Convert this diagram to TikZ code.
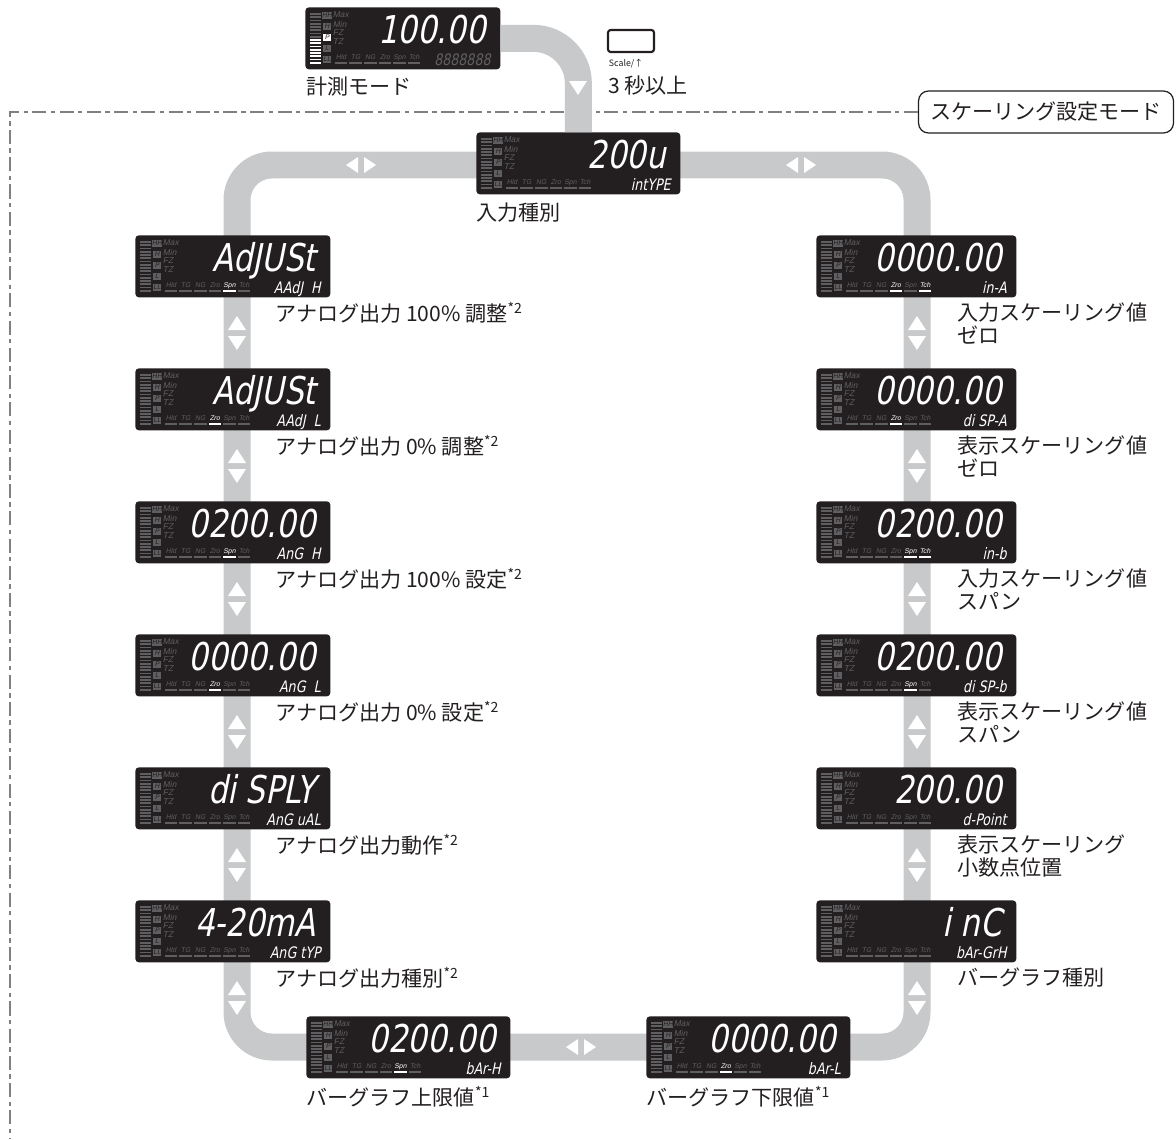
\documentclass[tikz,border=0pt]{standalone}
\usepackage{fontspec}
\usepackage{xstring}
\usepackage{tikz}
\usetikzlibrary{positioning, calc}
\setmainfont{Noto Sans CJK JP}
\newfontfamily\segfont{DejaVu Sans}[FakeSlant=0.2, FakeStretch=0.8]
\newfontfamily\lcdsans{Liberation Sans}[FakeSlant=0.2]
\definecolor{track}{HTML}{C8C9CA}
\definecolor{lcdbg}{HTML}{231F20}
\definecolor{lcdoff}{HTML}{5F5F61}
\definecolor{ink}{HTML}{231F20}
\definecolor{frame}{HTML}{808080}

\newcommand{\lcd}[7]{%
  \node[lcdbox, minimum width=#4*0.02cm] (#1) at (#2,#3) {};
  \begin{scope}[shift={(#1.north west)}]
    \foreach \i in {0,...,15}
      \fill[lcdoff] (5,{6+3.25*\i}) rectangle ++(11,1.8);
    \foreach \lb [count=\i] in {HH,H,P,L,LL}
      \node[ind] (#1-i\i) at (22,{-2.5+11*\i}) {\lb};
    \foreach \lb [count=\i] in {Max,Min,FZ,TZ}
      \node[tag, anchor=west] (#1-f\i) at (27.5,{-1+9*\i}) {\lb};
    \foreach \lb [count=\i] in {Hld,TG,NG,Zro,Spn,Tch} {
      \IfSubStr{,#7,}{,\i,}{\def\lcol{white}}{\def\lcol{lcdoff}}
      \node[tagsm, text=\lcol] (#1-b\i) at ({21.5+14.6*\i},50.5) {\lb};
      \fill[\lcol] ({15.2+14.6*\i},55) rectangle ++(12.6,1.8);}
    \node[digits] (#1-m) at ({#4-14},36.5) {#5};
    \node[subdigits] (#1-s) at ({#4-9},58.5) {#6};
  \end{scope}}

\tikzset{
  tup/.pic={\fill[white] (-9,7) -- (9,7) -- (0,-7) -- cycle;},
  tdn/.pic={\fill[white] (-9,-7) -- (9,-7) -- (0,7) -- cycle;},
  tlt/.pic={\fill[white] (6,-8) -- (6,8) -- (-6,0) -- cycle;},
  trt/.pic={\fill[white] (-6,-8) -- (-6,8) -- (6,0) -- cycle;}}

\begin{document}
\begin{tikzpicture}[x=0.02cm, y=-0.02cm,
    lcdbox/.style={fill=lcdbg, rounded corners=2pt, minimum height=1.24cm,
      anchor=north west, inner sep=0},
    ind/.style={fill=lcdoff, minimum size=0.15cm, inner sep=0, text=lcdbg,
      font=\lcdsans\fontsize{3.8}{4}\selectfont},
    tag/.style={font=\lcdsans\fontsize{4.8}{5}\selectfont, text=lcdoff, inner sep=0},
    tagsm/.style={font=\lcdsans\fontsize{3.9}{4}\selectfont, text=lcdoff, inner sep=0},
    digits/.style={font=\segfont\fontsize{21.8}{22}\selectfont, text=white,
      anchor=base east, inner sep=0},
    subdigits/.style={font=\segfont\fontsize{9}{10}\selectfont, text=white,
      anchor=base east, inner sep=0},
    lbl/.style={font=\fontsize{12}{13.6}\selectfont, text=ink, inner sep=0,
      anchor=north west, align=left},
    trk/.style={draw=track, line width=0.54cm},
    frameline/.style={draw=frame, line width=0.7pt,
      dash pattern=on 8pt off 2.5pt on 2.5pt off 2.5pt},
    modebox/.style={draw=ink, fill=white, line width=0.7pt, rounded corners=0.2cm,
      minimum width=5.1cm, minimum height=0.84cm, text=ink,
      font=\fontsize{12}{14}\selectfont},
    keybox/.style={draw=ink, line width=1.2pt, rounded corners=1.5pt,
      minimum width=0.92cm, minimum height=0.44cm}]

  \useasboundingbox (0,0) rectangle (1176,1139);

  \node[modebox] (mode) at (1046,112) {スケーリング設定モード};
  \coordinate (fe) at (10,1139);
  \draw[frameline] (mode.west) -| (fe);

  \coordinate (tl) at (237,165);
  \coordinate (br) at (917,1047);
  \draw[trk, rounded corners=0.7cm] (tl) rectangle (br);

  \lcd{meas}{305}{7}{195}{100.00}{\color{lcdoff}8888888}{0}
  \begin{scope}[shift={(meas.north west)}]
    \foreach \i in {8,...,15} \fill[white] (5,{6+3.25*\i}) rectangle ++(11,1.8);
    \node[ind, fill=white] (meas-p) at (22,30.5) {P};
  \end{scope}
  \lcd{inp}{476}{132}{204}{200u}{intYPE}{0}
  \draw[trk, rounded corners=0.9cm] (meas.east) -| (inp.north);

  \foreach \k in {0,...,5} {
    \pic at (237,{323+133*\k}) {tup};
    \pic at (237,{343+133*\k}) {tdn};
    \pic at (917,{323+133*\k}) {tup};
    \pic at (917,{343+133*\k}) {tdn};}
  \pic at (352,165) {tlt}; \pic at (370,165) {trt};
  \pic at (792,165) {tlt}; \pic at (810,165) {trt};
  \pic at (572,1047) {tlt}; \pic at (590,1047) {trt};
  \pic at (578,88) {tdn};

  \lcd{a1}{135}{235}{195}{AdJUSt}{AAdJ\ \ H}{5}
  \lcd{a2}{135}{368}{195}{AdJUSt}{AAdJ\ \ L}{4}
  \lcd{a3}{135}{501}{195}{0200.00}{AnG\ \ H}{5}
  \lcd{a4}{135}{634}{195}{0000.00}{AnG\ \ L}{4}
  \lcd{a5}{135}{767}{195}{di SPLY}{AnG uAL}{0}
  \lcd{a6}{135}{900}{195}{4-20mA}{AnG tYP}{0}

  \lcd{s1}{816}{235}{200}{0000.00}{in-A}{4,6}
  \lcd{s2}{816}{368}{200}{0000.00}{di SP-A}{4}
  \lcd{s3}{816}{501}{200}{0200.00}{in-b}{5,6}
  \lcd{s4}{816}{634}{200}{0200.00}{di SP-b}{5}
  \lcd{s5}{816}{767}{200}{200.00}{d-Point}{0}
  \lcd{s6}{816}{900}{200}{i nC}{bAr-GrH}{0}

  \lcd{bh}{306}{1016}{204}{0200.00}{bAr-H}{5}
  \lcd{bl}{646}{1016}{204}{0000.00}{bAr-L}{4}

  \node[keybox] (key) at (631,41) {};
  \node[font=\fontsize{5}{6}\selectfont, text=ink, inner sep=0] (keyname)
    at (626,64) {Scale/↑};
  \node[lbl] (keytime) at (608,75.5) {3 秒以上};
  \node[lbl] (meast) at (306,76) {計測モード};
  \node[lbl] (inpt) at (476,202) {入力種別};

  \node[lbl] (a1t) at (275,302) {アナログ出力 100\% 調整\textsuperscript{*2}};
  \node[lbl] (a2t) at (275,435) {アナログ出力 0\% 調整\textsuperscript{*2}};
  \node[lbl] (a3t) at (275,568) {アナログ出力 100\% 設定\textsuperscript{*2}};
  \node[lbl] (a4t) at (275,701) {アナログ出力 0\% 設定\textsuperscript{*2}};
  \node[lbl] (a5t) at (275,834) {アナログ出力動作\textsuperscript{*2}};
  \node[lbl] (a6t) at (275,967) {アナログ出力種別\textsuperscript{*2}};

  \node[lbl] (s1t) at (957,302) {入力スケーリング値\\ゼロ};
  \node[lbl] (s2t) at (957,435) {表示スケーリング値\\ゼロ};
  \node[lbl] (s3t) at (957,568) {入力スケーリング値\\スパン};
  \node[lbl] (s4t) at (957,701) {表示スケーリング値\\スパン};
  \node[lbl] (s5t) at (957,834) {表示スケーリング\\小数点位置};
  \node[lbl] (s6t) at (957,967) {バーグラフ種別};

  \node[lbl] (bht) at (306,1086) {バーグラフ上限値\textsuperscript{*1}};
  \node[lbl] (blt) at (646,1086) {バーグラフ下限値\textsuperscript{*1}};
\end{tikzpicture}
\end{document}
